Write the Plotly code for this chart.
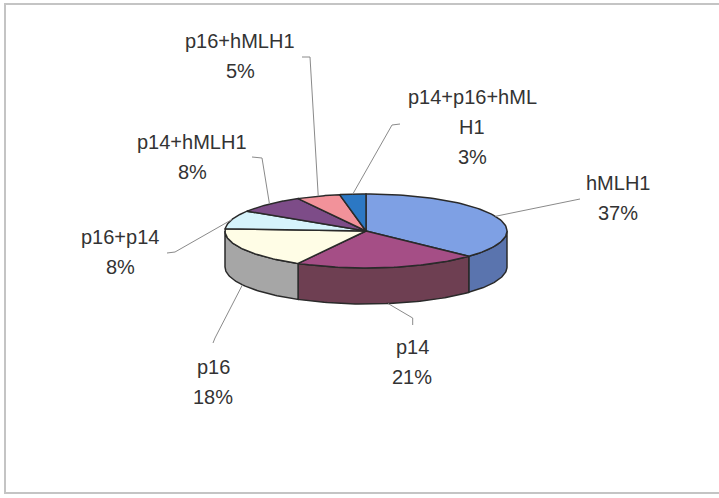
import numpy as np
import plotly.graph_objects as go

# ---- data ----
categories = ["hMLH1", "p14", "p16", "p16+p14", "p14+hMLH1", "p16+hMLH1", "p14+p16+hMLH1"]
values = [37, 21, 18, 8, 8, 5, 3]

# ---- style / layout ----
top_colors = ["#7EA0E4", "#A54E86", "#FFFDE6", "#D6F3FB", "#7D4C88", "#F2929A", "#2C78C4"]
side_colors = ["#5A74AE", "#6E3F52", "#A6A6A6", "#A9CCD6", "#5A3563", "#C06F76", "#1F5A95"]
W, H = 719, 498
CX, CY, RX, RY, DEPTH = 366, 231, 141, 37, 36
label_pos = [(618, 183), (412, 347), (213, 367), (120, 237), (192, 142), (240, 41), (472, 97)]
leader_start = [
    [(580, 199)],
    [(412.7, 325), (412.7, 318)],
    [(213, 343), (215, 338)],
    [(167, 253), (175, 252)],
    [(252, 157), (262, 158)],
    [(302, 57), (310, 57)],
    [(400, 124), (392, 125)],
]
LINE_GAP = 30
FONT = dict(family="Liberation Sans, Arial, sans-serif", size=20, color="#333333")
EDGE = "#2A2A2A"


def pt(theta_deg, dy=0.0):
    t = np.radians(theta_deg)
    return CX + RX * np.cos(t), CY - RY * np.sin(t) + dy


def wrap(s, n=11):
    return [s[i:i + n] for i in range(0, len(s), n)]


total = float(sum(values))
angles = [90.0]
for v in values:
    angles.append(angles[-1] - 360.0 * v / total)

fig = go.Figure()

# side walls (front half only: angles between -180 and 0)
for i in range(len(values)):
    a1, a2 = angles[i], angles[i + 1]
    s, e = min(a1, 0.0), max(a2, -180.0)
    if s <= e:
        continue
    th = np.linspace(s, e, 60)
    xt, yt = pt(th)
    xb, yb = pt(th[::-1], DEPTH)
    xs = np.concatenate([xt, xb, xt[:1]])
    ys = np.concatenate([yt, yb, yt[:1]])
    fig.add_trace(go.Scatter(x=xs, y=ys, mode="lines", fill="toself",
                             fillcolor=side_colors[i],
                             line=dict(color=EDGE, width=1.5),
                             hoverinfo="skip", showlegend=False))

# top faces
for i in range(len(values)):
    a1, a2 = angles[i], angles[i + 1]
    th = np.linspace(a1, a2, 80)
    xa, ya = pt(th)
    xs = np.concatenate([[CX], xa, [CX]])
    ys = np.concatenate([[CY], ya, [CY]])
    fig.add_trace(go.Scatter(x=xs, y=ys, mode="lines", fill="toself",
                             fillcolor=top_colors[i],
                             line=dict(color=EDGE, width=1.5),
                             hoverinfo="skip", showlegend=False))

# leader lines and labels
annotations = []
for i, (name, v) in enumerate(zip(categories, values)):
    mid = (angles[i] + angles[i + 1]) / 2.0
    dy = DEPTH if np.sin(np.radians(mid)) < 0 else 0.0
    ex, ey = pt(mid, dy)
    pts = leader_start[i] + [(ex, ey)]
    fig.add_trace(go.Scatter(x=[p[0] for p in pts], y=[p[1] for p in pts],
                             mode="lines", line=dict(color="#8A8A8A", width=1),
                             hoverinfo="skip", showlegend=False))
    lines = wrap(name) + [f"{v}%"]
    lx, ly = label_pos[i]
    for k, txt in enumerate(lines):
        annotations.append(dict(x=lx, y=ly + k * LINE_GAP, text=txt, showarrow=False,
                                xref="x", yref="y", font=FONT,
                                xanchor="center", yanchor="middle"))

fig.update_layout(
    width=W, height=H,
    margin=dict(l=0, r=0, t=0, b=0),
    paper_bgcolor="white", plot_bgcolor="white",
    xaxis=dict(range=[0, W], visible=False, fixedrange=True),
    yaxis=dict(range=[H, 0], visible=False, fixedrange=True),
    annotations=annotations,
    shapes=[dict(type="rect", xref="x", yref="y", x0=5, y0=4, x1=W + 10, y1=493,
                 line=dict(color="#C4C4C4", width=2), layer="below")],
)

fig.write_html("out.html")
